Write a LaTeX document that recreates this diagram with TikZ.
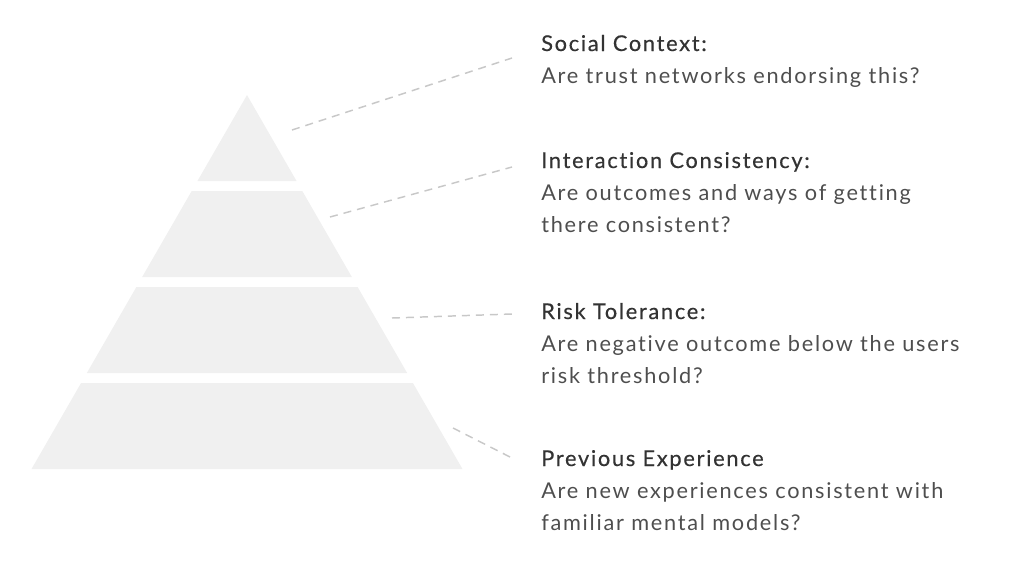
\documentclass[tikz,border=0pt]{standalone}
\usepackage{fontspec}
\setmainfont{Lato}[LetterSpace=8,Ligatures=CommonOff]
\newfontfamily\tieude{Lato}[LetterSpace=8,Ligatures=CommonOff,FakeBold=0.5]
\usetikzlibrary{positioning,calc}
\definecolor{khoi}{HTML}{F0F0F0}
\definecolor{netdut}{HTML}{C8C8C8}
\definecolor{chudam}{HTML}{333333}
\definecolor{chunhat}{HTML}{4E4E4E}
\tikzset{
  tang/.style={fill=khoi},
  noi/.style={draw=netdut, line width=1.1pt, dash pattern=on 6pt off 4.5pt},
  nhan/.style={anchor=base west, inner sep=0pt, align=left, font=\fontsize{16.3}{24}\selectfont, text=chunhat},
}
\begin{document}
\begin{tikzpicture}[x=0.75pt,y=-0.75pt]
	\def\hw(#1){((#1)-95)*0.5762}
	\useasboundingbox (0,0) rectangle (1022,569);
	% Ve kim tu thap: 4 tang, moi tang cao 86, khe 10
	\foreach \t in {95,191,287,383}{
		\pgfmathsetmacro\b{\t+86}
		\fill[tang] ({247-\hw(\t)},\t) -- ({247+\hw(\t)},\t) -- ({247+\hw(\b)},\b) -- ({247-\hw(\b)},\b) -- cycle;
	}
	% Cac nhan ben phai (goc base west = dong cuoi)
	\node[nhan] (xahoi) at (541,83) {{\tieude\color{chudam}Social Context:}\\Are trust networks endorsing this?};
	\node[nhan] (tuongtac) at (541,232) {{\tieude\color{chudam}Interaction Consistency:}\\Are outcomes and ways of getting\\there consistent?};
	\node[nhan] (ruiro) at (541,383) {{\tieude\color{chudam}Risk Tolerance:}\\Are negative outcome below the users\\risk threshold?};
	\node[nhan] (kinhnghiem) at (541,530) {{\tieude\color{chudam}Previous Experience}\\Are new experiences consistent with\\familiar mental models?};
	% Diem dau cac duong net dut
	\coordinate (a1) at (292,130);
	\coordinate (a2) at (330,217);
	\coordinate (a3) at (392,318);
	\coordinate (a4) at (453,428);
	\coordinate (b1) at (512,58);
	\coordinate (b2) at (512,167);
	\coordinate (b3) at (512,314);
	\coordinate (b4) at (512,458);
	% Ve cac duong net dut
	\draw[noi] (a1) -- (b1);
	\draw[noi] (a2) -- (b2);
	\draw[noi] (a3) -- (b3);
	\draw[noi] (a4) -- (b4);
\end{tikzpicture}
\end{document}
